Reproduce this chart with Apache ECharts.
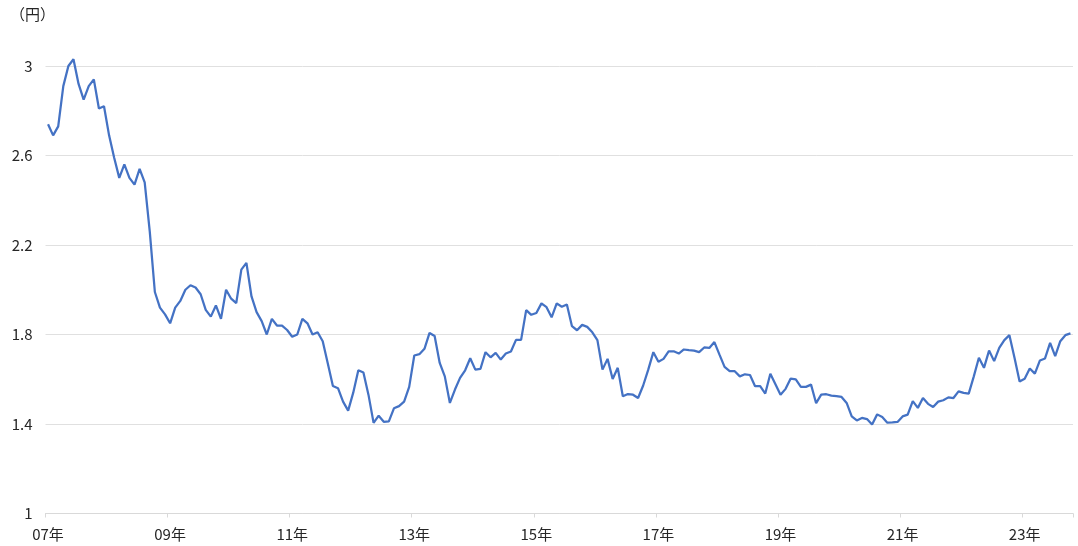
<!DOCTYPE html>
<html>
<head>
<meta charset="utf-8">
<script src="https://cdn.jsdelivr.net/npm/echarts@6/dist/echarts.min.js"></script>
<style>
html,body{margin:0;padding:0;background:#fff;}
#chart{width:1078px;height:546px;}
</style>
</head>
<body>
<div id="chart"></div>
<script>
// Monthly series, Jan 2007 – Oct 2023
const startYear = 2007;
const monthCount = 202;
const unitLabel = '（円）';
const yTicks = [1, 1.4, 1.8, 2.2, 2.6, 3];

const v2007 = [2.74, 2.69, 2.73, 2.91, 3.00, 3.03, 2.92, 2.85, 2.91, 2.94, 2.81, 2.82];
const v2008 = [2.69, 2.59, 2.50, 2.56, 2.50, 2.47, 2.54, 2.48, 2.26, 1.99, 1.92, 1.89];
const v2009 = [1.85, 1.92, 1.95, 2.00, 2.02, 2.01, 1.98, 1.91, 1.88, 1.93, 1.87, 2.00];
const v2010 = [1.96, 1.94, 2.09, 2.12, 1.97, 1.90, 1.86, 1.80, 1.87, 1.84, 1.84, 1.82];
const v2011 = [1.79, 1.80, 1.87, 1.85, 1.80, 1.81, 1.77, 1.67, 1.57, 1.56, 1.50, 1.46];
const v2012 = [1.54, 1.64, 1.63, 1.53, 1.405, 1.437, 1.41, 1.412, 1.47, 1.48, 1.50, 1.566];
const v2013 = [1.706, 1.712, 1.736, 1.807, 1.793, 1.673, 1.613, 1.494, 1.554, 1.606, 1.64, 1.694];
const v2014 = [1.643, 1.646, 1.721, 1.698, 1.718, 1.688, 1.715, 1.724, 1.776, 1.776, 1.909, 1.888];
const v2015 = [1.896, 1.939, 1.922, 1.877, 1.939, 1.924, 1.934, 1.837, 1.819, 1.843, 1.834, 1.81];
const v2016 = [1.775, 1.643, 1.691, 1.601, 1.651, 1.524, 1.534, 1.531, 1.516, 1.572, 1.643, 1.721];
const v2017 = [1.678, 1.691, 1.725, 1.725, 1.715, 1.733, 1.73, 1.728, 1.721, 1.742, 1.74, 1.766];
const v2018 = [1.71, 1.655, 1.636, 1.636, 1.613, 1.622, 1.619, 1.569, 1.569, 1.536, 1.625, 1.578];
const v2019 = [1.531, 1.557, 1.603, 1.599, 1.566, 1.566, 1.576, 1.493, 1.531, 1.533, 1.527, 1.525];
const v2020 = [1.521, 1.494, 1.434, 1.416, 1.427, 1.422, 1.398, 1.443, 1.431, 1.406, 1.407, 1.409];
const v2021 = [1.434, 1.442, 1.502, 1.472, 1.516, 1.49, 1.476, 1.50, 1.506, 1.519, 1.516, 1.546];
const v2022 = [1.539, 1.536, 1.613, 1.696, 1.651, 1.728, 1.681, 1.74, 1.775, 1.797, 1.696, 1.59];
const v2023 = [1.602, 1.648, 1.625, 1.684, 1.693, 1.763, 1.703, 1.77, 1.797, 1.805];

const values = [].concat(v2007, v2008, v2009, v2010, v2011, v2012, v2013, v2014,
  v2015, v2016, v2017, v2018, v2019, v2020, v2021, v2022, v2023);

const categories = [];
for (let i = 0; i < monthCount; i++) {
  const y = startYear + Math.floor(i / 12);
  const m = (i % 12) + 1;
  categories.push(y + '/' + (m < 10 ? '0' + m : m));
}

const FONT = '"Noto Sans CJK JP", "Noto Sans", sans-serif';
const chart = echarts.init(document.getElementById('chart'));
chart.setOption({
  animation: false,
  backgroundColor: '#ffffff',
  grid: { left: 45.5, right: 5, top: 66, bottom: 32.5, containLabel: false },
  graphic: [{
    type: 'text', left: 10, top: 7,
    style: { text: unitLabel, font: '15px ' + FONT, fill: '#262626' }
  }],
  xAxis: {
    type: 'category',
    data: categories,
    boundaryGap: true,
    axisLine: { lineStyle: { color: '#d9d9d9', width: 1 } },
    axisTick: { show: true, interval: 23, length: 4, lineStyle: { color: '#d9d9d9' } },
    axisLabel: {
      interval: 23, margin: 13, color: '#262626', fontSize: 15, fontFamily: FONT,
      formatter: function (v) { return v.slice(2, 4) + '年'; }
    },
    splitLine: { show: false }
  },
  yAxis: {
    type: 'value',
    min: yTicks[0], max: yTicks[yTicks.length - 1], interval: 0.4,
    axisLine: { show: false },
    axisTick: { show: false },
    axisLabel: { margin: 13, color: '#262626', fontSize: 15, fontFamily: FONT },
    splitLine: { lineStyle: { color: '#e0e0e0', width: 1 } }
  },
  series: [{
    type: 'line',
    data: values,
    clip: false,
    showSymbol: false,
    symbol: 'none',
    lineStyle: { color: '#4472C4', width: 2.25 },
    itemStyle: { color: '#4472C4' }
  }]
});
</script>
</body>
</html>
